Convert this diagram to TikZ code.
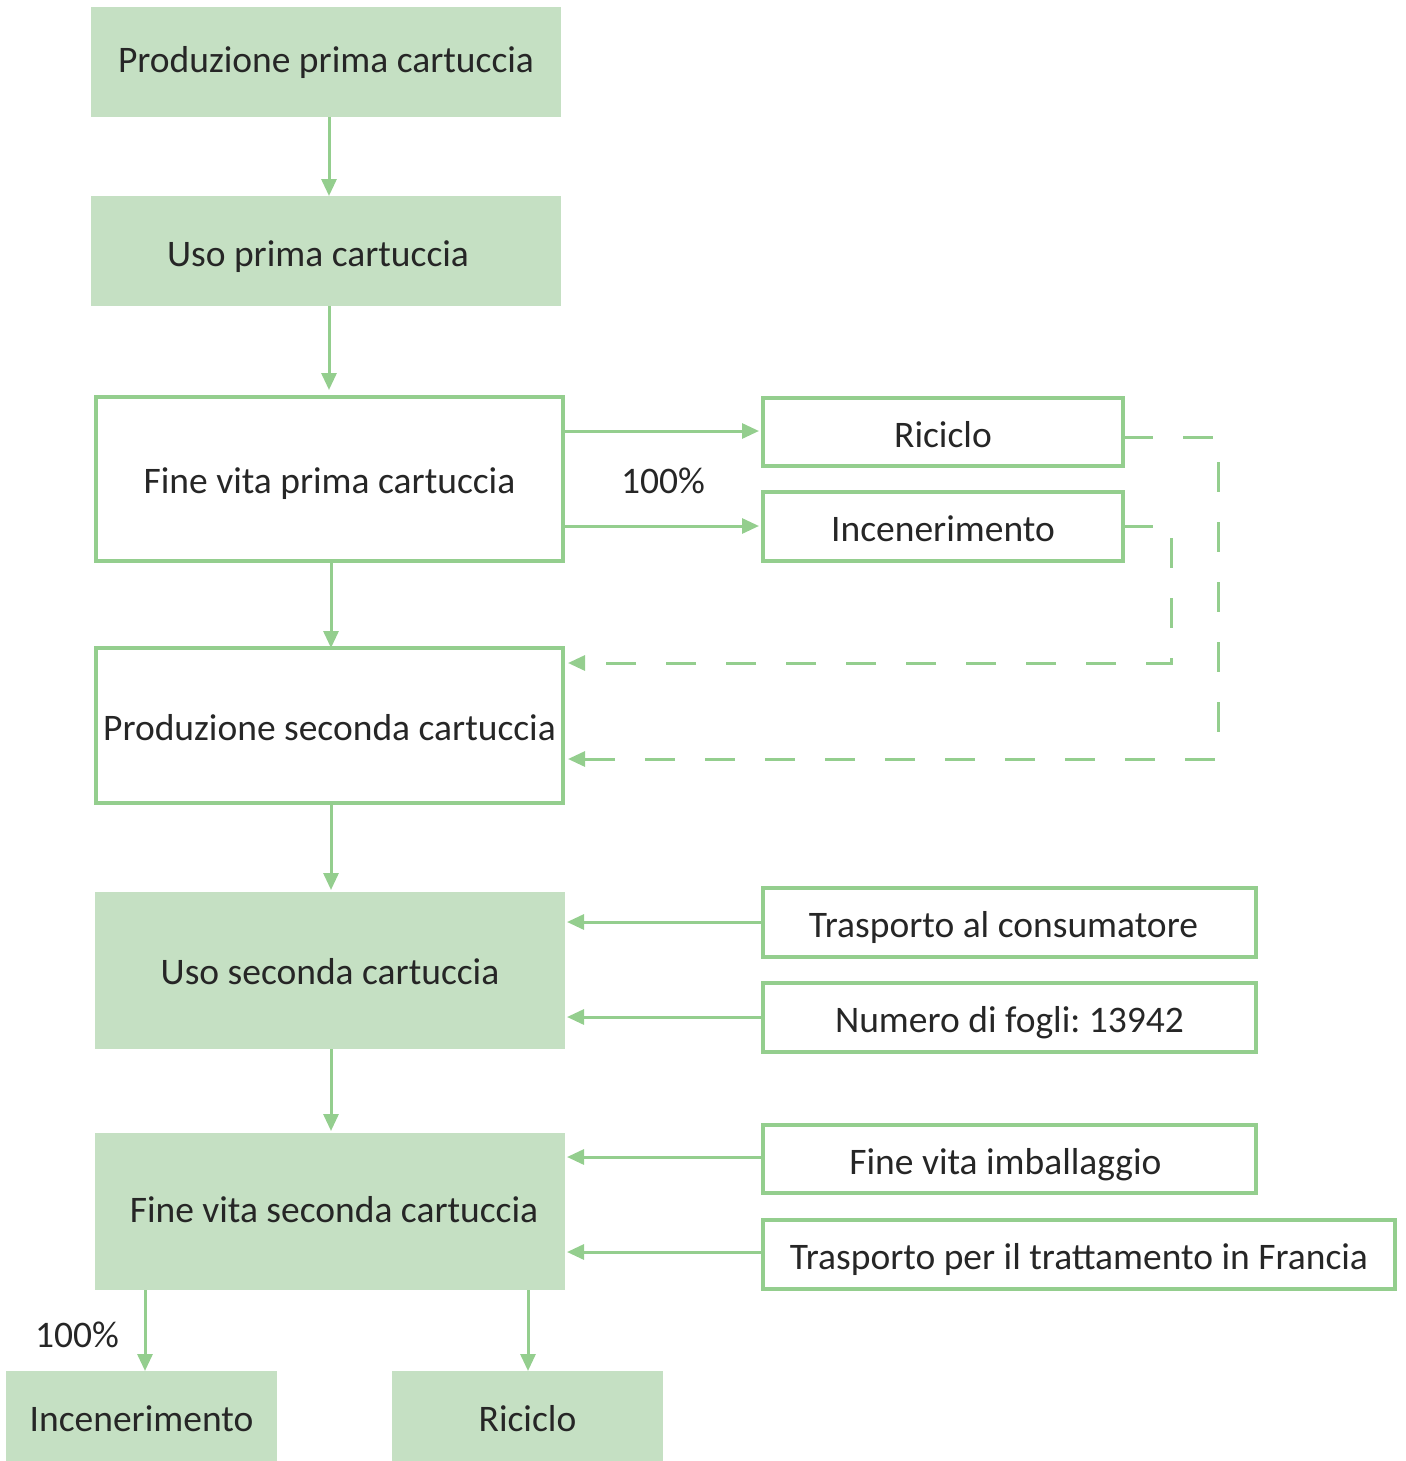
\documentclass[tikz,border=0pt]{standalone}
\usepackage{fontspec}
\setmainfont{Carlito}
\usetikzlibrary{arrows.meta}
\definecolor{boxfill}{RGB}{197,224,195}
\definecolor{edge}{RGB}{148,206,142}
\definecolor{ink}{RGB}{38,38,38}
\tikzset{
  base/.style={rectangle, inner sep=0pt, outer sep=0pt, text=ink,
    font=\fontsize{37.5}{44}\selectfont\frenchspacing, text height=32pt, text depth=2pt},
  solidbox/.style={base, fill=boxfill},
  framebox/.style={base, draw=edge, line width=4pt},
  flow/.style={draw=edge, line width=3pt,
    -{Triangle[length=17pt,width=15pt]}},
  back/.style={flow, dash pattern=on 30pt off 30pt},
  lbl/.style={text=ink, font=\fontsize{37.5}{44}\selectfont, inner sep=0pt}
}
\begin{document}
\begin{tikzpicture}[x=1pt,y=-1pt]
\useasboundingbox (0,0) rectangle (1405,1461);

% main column
\node[solidbox, minimum width=470pt, minimum height=110pt] (p1) at (326,62) {\raisebox{4pt}{Produzione prima cartuccia}};
\node[solidbox, minimum width=470pt, minimum height=110pt] (u1) at (326,251) {\hspace*{-16pt}Uso prima cartuccia};
\node[framebox, minimum width=467pt, minimum height=164pt] (f1) at (329.5,479) {\raisebox{1pt}{Fine vita prima cartuccia}};
\node[framebox, minimum width=467pt, minimum height=155pt] (p2) at (329.5,725.5) {Produzione seconda cartuccia};
\node[solidbox, minimum width=470pt, minimum height=157pt] (u2) at (330,970.5) {\raisebox{1pt}{Uso seconda cartuccia}};
\node[solidbox, minimum width=470pt, minimum height=157pt] (f2) at (330,1211.5) {\hspace*{8pt}\raisebox{4pt}{Fine vita seconda cartuccia}};
\node[solidbox, minimum width=271pt, minimum height=90pt] (inc) at (141.5,1416) {Incenerimento};
\node[solidbox, minimum width=271pt, minimum height=90pt] (ric) at (527.5,1416) {Riciclo};

% side boxes
\node[framebox, minimum width=360pt, minimum height=68pt] (r1) at (943,432) {Riciclo};
\node[framebox, minimum width=360pt, minimum height=69pt] (i1) at (943,526.5) {Incenerimento};
\node[framebox, minimum width=493pt, minimum height=69pt] (tc) at (1009.5,922.5) {\hspace*{-12pt}Trasporto al consumatore};
\node[framebox, minimum width=493pt, minimum height=69pt] (nf) at (1009.5,1017.5) {Numero di fogli: 13942};
\node[framebox, minimum width=493pt, minimum height=68pt] (fi) at (1009.5,1159) {\hspace*{-8pt}Fine vita imballaggio};
\node[framebox, minimum width=632pt, minimum height=69pt] (tf) at (1079,1254.5) {Trasporto per il trattamento in Francia};

% labels
\node[lbl] (pc1) at (663,481) {100\%};
\node[lbl] (pc2) at (77,1335) {100\%};

% connector end points
\coordinate (x1) at (329,0);
\coordinate (x2) at (331,0);
\coordinate (x3) at (145,0);
\coordinate (x4) at (528,0);
\coordinate (tipR) at (759,0);
\coordinate (tipL) at (567,0);
\coordinate (tipD) at (568,0);

% vertical flow
\draw[flow] (x1 |- p1.south) -- (x1 |- u1.north);
\draw[flow] (x1 |- u1.south) -- (329,390);
\draw[flow] (x2 |- f1.south) -- (x2 |- p2.north);
\draw[flow] (x2 |- p2.south) -- (331,890);
\draw[flow] (x2 |- u2.south) -- (331,1131);
\draw[flow] (x3 |- f2.south) -- (x3 |- inc.north);
\draw[flow] (x4 |- f2.south) -- (x4 |- ric.north);

% outputs of end of life
\draw[flow] (f1.east |- 0,431) -- (tipR |- 0,431);
\draw[flow] (f1.east |- 0,526) -- (tipR |- 0,526);

% dashed return loops
\coordinate (rc1) at (1218,437);
\coordinate (rc2) at (1218,759);
\coordinate (ic1) at (1171,526);
\coordinate (ic2) at (1171,663);
\draw[back] (r1.east |- rc1) -- (rc1) -- (rc2) -- (tipD |- rc2);
\draw[back] (i1.east |- ic1) -- (ic1) -- (ic2) -- (tipD |- ic2);

% inputs into use and end of life
\draw[flow] (tc.west |- 0,922) -- (tipL |- 0,922);
\draw[flow] (nf.west |- 0,1017) -- (tipL |- 0,1017);
\draw[flow] (fi.west |- 0,1157) -- (tipL |- 0,1157);
\draw[flow] (tf.west |- 0,1252) -- (tipL |- 0,1252);
\end{tikzpicture}
\end{document}
